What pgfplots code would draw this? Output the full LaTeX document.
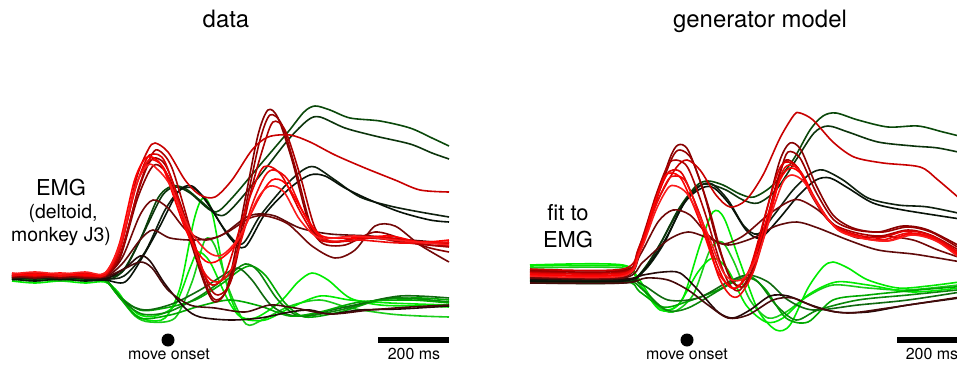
\documentclass[border=0pt]{standalone}
\usepackage{pgfplots}
\pgfplotsset{compat=1.18}
\usepackage{fontspec}
\setmainfont{TeX Gyre Heros}
\definecolor{gA}{RGB}{0,235,0}
\definecolor{gB}{RGB}{25,205,25}
\definecolor{gC}{RGB}{0,170,0}
\definecolor{gD}{RGB}{10,135,10}
\definecolor{gE}{RGB}{15,105,15}
\definecolor{gF}{RGB}{10,72,10}
\definecolor{gG}{RGB}{12,52,12}
\definecolor{kA}{RGB}{15,32,15}
\definecolor{kA2}{RGB}{8,18,8}
\definecolor{kB}{RGB}{35,8,8}
\definecolor{dA}{RGB}{70,10,10}
\definecolor{dB}{RGB}{95,10,10}
\definecolor{dB2}{RGB}{115,8,8}
\definecolor{dC}{RGB}{135,0,0}
\definecolor{dD}{RGB}{152,0,0}
\definecolor{dE}{RGB}{172,0,0}
\definecolor{mA}{RGB}{200,0,0}
\definecolor{rA}{RGB}{222,0,0}
\definecolor{rB}{RGB}{238,10,10}
\definecolor{rC}{RGB}{255,0,0}
\definecolor{rD}{RGB}{250,28,28}
\pgfplotsset{tr/.style={no markers, smooth, line width=1.6bp, line join=round},
  panel/.style={scale only axis, anchor=south west, height=369bp, ymin=0, ymax=369,
  y dir=reverse, hide axis, clip=false}}
\begin{document}
\begin{tikzpicture}
\useasboundingbox (0,0) rectangle (957bp,369bp);
% ---------------- data ----------------
\begin{axis}[panel, at={(0,0)}, width=478bp, xmin=0, xmax=478]
\addplot[tr,gA] coordinates {(12,281)(35,283)(60,281)(85,283)(105,282)(118,292)(132,312)(147,320)(165,318)(180,288)(194,220)(203,198)(212,212)(225,278)(238,314)(255,318)(280,302)(298,282)(312,273)(328,280)(350,298)(380,305)(420,306)(449,307)};
\addplot[tr,gB] coordinates {(12,280)(35,278)(60,281)(85,279)(105,281)(118,295)(135,316)(150,322)(175,318)(192,282)(205,240)(215,246)(230,292)(246,324)(262,320)(290,306)(320,300)(350,308)(390,314)(420,316)(449,317)};
\addplot[tr,gA] coordinates {(12,279)(35,281)(60,279)(85,281)(105,280)(120,296)(138,314)(155,316)(175,305)(190,268)(198,252)(210,262)(228,300)(242,318)(265,320)(290,308)(320,296)(350,300)(390,303)(449,305)};
\addplot[tr,gC] coordinates {(12,278)(35,280)(60,278)(85,280)(105,280)(118,295)(140,310)(165,308)(195,300)(220,285)(240,270)(252,266)(266,276)(285,303)(305,317)(340,312)(380,300)(420,298)(449,300)};
\addplot[tr,gD] coordinates {(12,277)(35,279)(60,277)(85,279)(105,279)(122,300)(142,314)(168,312)(200,296)(228,276)(245,264)(258,271)(278,300)(300,316)(340,310)(390,298)(449,302)};
\addplot[tr,gE] coordinates {(12,280)(35,278)(60,280)(85,278)(105,280)(125,302)(145,310)(172,304)(200,290)(222,276)(238,268)(252,280)(272,306)(298,316)(350,306)(400,296)(449,298)};
\addplot[tr,gC] coordinates {(12,279)(35,277)(60,279)(85,277)(105,280)(120,298)(140,318)(170,315)(200,306)(230,300)(260,306)(290,316)(320,312)(360,302)(410,300)(449,303)};
\addplot[tr,gF] coordinates {(12,279)(35,277)(60,279)(85,277)(105,280)(122,272)(140,240)(158,198)(172,186)(186,189)(202,202)(216,212)(232,198)(260,165)(288,132)(304,112)(315,106)(330,110)(350,118)(380,121)(410,128)(432,138)(449,146)};
\addplot[tr,gG] coordinates {(12,276)(35,278)(60,276)(85,278)(105,278)(124,270)(144,232)(162,196)(175,187)(190,193)(210,210)(226,214)(258,178)(288,140)(308,120)(320,117)(345,128)(375,136)(410,144)(432,153)(449,159)};
\addplot[tr,kA] coordinates {(12,277)(35,279)(60,277)(85,279)(105,279)(124,276)(145,252)(165,210)(180,190)(193,188)(206,200)(225,230)(242,244)(260,216)(285,186)(303,170)(315,167)(335,180)(360,197)(390,206)(420,212)(449,217)};
\addplot[tr,kA2] coordinates {(12,279)(35,281)(60,279)(85,281)(105,280)(125,282)(142,258)(160,226)(178,192)(192,186)(208,204)(230,238)(245,247)(265,214)(290,188)(310,175)(325,176)(345,188)(370,200)(400,212)(430,220)(449,222)};
\addplot[tr,kB] coordinates {(12,278)(35,276)(60,278)(85,276)(105,279)(125,268)(140,256)(150,261)(165,284)(185,308)(200,317)(230,320)(260,318)(290,312)(310,310)(330,314)(360,310)(400,309)(449,306)};
\addplot[tr,dA] coordinates {(12,275)(35,277)(60,275)(85,277)(105,277)(122,270)(140,262)(152,268)(168,290)(190,305)(215,308)(245,312)(270,305)(295,308)(330,314)(370,310)(410,307)(449,305)};
\addplot[tr,dB] coordinates {(12,278)(35,276)(60,278)(85,276)(105,277)(122,264)(140,240)(153,230)(170,238)(195,240)(220,236)(245,218)(258,214)(275,216)(300,228)(330,234)(370,236)(410,240)(449,243)};
\addplot[tr,dB2] coordinates {(12,276)(35,278)(60,276)(85,278)(105,276)(122,258)(140,215)(153,200)(168,208)(186,230)(205,240)(226,233)(250,218)(266,216)(288,224)(312,246)(335,258)(355,250)(375,226)(395,226)(420,245)(449,262)};
\addplot[tr,dC] coordinates {(12,277)(35,275)(60,277)(85,275)(105,276)(120,258)(137,200)(150,170)(158,165)(170,180)(190,240)(205,285)(215,302)(228,285)(245,200)(258,135)(268,110)(278,118)(292,160)(308,220)(322,243)(345,245)(375,232)(405,240)(430,248)(449,252)};
\addplot[tr,dD] coordinates {(12,275)(35,277)(60,275)(85,277)(105,275)(120,255)(137,195)(148,165)(156,158)(168,170)(190,232)(205,282)(216,300)(230,282)(248,195)(260,140)(270,115)(282,125)(296,170)(312,228)(330,242)(360,238)(395,240)(430,245)(449,246)};
\addplot[tr,dE] coordinates {(12,276)(35,274)(60,276)(85,274)(105,276)(122,250)(138,190)(150,158)(158,150)(172,168)(192,235)(207,282)(218,295)(232,278)(250,195)(263,148)(273,122)(285,130)(300,175)(316,230)(335,242)(365,236)(400,242)(449,247)};
\addplot[tr,mA] coordinates {(12,275)(35,273)(60,275)(85,273)(105,274)(120,250)(136,180)(148,150)(155,143)(168,152)(185,180)(200,195)(215,197)(232,180)(252,150)(268,137)(290,135)(310,142)(335,155)(365,168)(395,180)(420,190)(449,192)};
\addplot[tr,rA] coordinates {(12,274)(35,276)(60,274)(85,276)(105,274)(120,248)(135,190)(146,160)(153,154)(165,162)(185,220)(200,265)(212,285)(226,272)(246,208)(260,172)(268,166)(282,176)(302,215)(320,240)(350,241)(380,237)(410,241)(449,244)};
\addplot[tr,rB] coordinates {(12,276)(35,274)(60,276)(85,274)(105,275)(121,245)(136,186)(147,162)(154,160)(166,172)(188,232)(204,272)(217,282)(232,268)(252,205)(265,176)(274,170)(288,180)(306,218)(325,240)(360,240)(400,243)(449,242)};
\addplot[tr,rC] coordinates {(12,273)(35,275)(60,273)(85,275)(105,273)(119,245)(134,182)(144,160)(152,157)(164,170)(185,228)(202,258)(215,262)(235,245)(258,200)(272,180)(286,184)(305,215)(322,236)(355,238)(390,236)(420,242)(449,240)};
\addplot[tr,rD] coordinates {(12,274)(35,272)(60,274)(85,272)(105,273)(120,244)(136,185)(148,165)(156,168)(170,185)(190,230)(208,252)(222,255)(240,236)(258,198)(270,186)(284,192)(300,220)(320,238)(355,236)(395,240)(449,245)};
\node[font=\fontsize{24}{28}\selectfont, anchor=base] at (axis cs:226,28) {data};
\node[font=\fontsize{22}{26}\selectfont, anchor=base] at (axis cs:61,195) {EMG};
\node[font=\fontsize{19.5}{24}\selectfont, anchor=base] at (axis cs:63,218) {(deltoid,};
\node[font=\fontsize{19.5}{24}\selectfont, anchor=base] at (axis cs:61,241) {monkey J3)};
\node[circle, fill=black, inner sep=0pt, minimum size=13bp] at (axis cs:168,340) {};
\node[font=\fontsize{16}{19}\selectfont, anchor=base] at (axis cs:169,359) {move onset};
\draw[line width=6.5bp] (axis cs:378,340) -- (axis cs:449,340);
\node[font=\fontsize{16}{19}\selectfont, anchor=base] at (axis cs:414,359) {200 ms};
\end{axis}
% ---------------- generator model ----------------
\begin{axis}[panel, at={(478bp,0)}, width=479bp, xmin=-40, xmax=439]
\addplot[tr,gA] coordinates {(12,266)(105,266)(118,275)(135,300)(150,310)(165,298)(182,245)(195,212)(206,218)(222,262)(240,310)(258,330)(272,325)(290,288)(305,267)(315,262)(330,268)(350,280)(380,288)(410,286)(449,281)};
\addplot[tr,gB] coordinates {(12,268)(105,268)(120,282)(138,305)(155,312)(175,295)(192,250)(204,242)(216,262)(232,300)(250,318)(268,312)(290,296)(315,285)(350,288)(390,290)(449,284)};
\addplot[tr,gA] coordinates {(12,265)(105,265)(122,285)(142,310)(160,305)(180,272)(195,258)(210,270)(228,305)(248,322)(265,318)(290,295)(318,282)(350,285)(395,292)(449,287)};
\addplot[tr,gC] coordinates {(12,281)(105,281)(122,292)(145,307)(168,302)(200,290)(220,278)(232,276)(248,290)(268,318)(290,322)(315,300)(350,295)(400,290)(449,286)};
\addplot[tr,gD] coordinates {(12,280)(105,280)(125,290)(148,310)(170,308)(205,288)(225,278)(240,282)(258,305)(278,320)(300,310)(340,300)(390,295)(449,289)};
\addplot[tr,gE] coordinates {(12,279)(105,279)(125,285)(150,300)(180,298)(210,282)(230,275)(250,282)(270,300)(295,310)(340,305)(390,300)(449,291)};
\addplot[tr,gF] coordinates {(12,282)(105,282)(120,276)(140,248)(160,210)(178,186)(190,181)(205,185)(222,194)(236,197)(255,185)(275,160)(292,130)(305,116)(318,113)(340,120)(370,127)(400,126)(425,132)(449,138)};
\addplot[tr,gG] coordinates {(12,283)(105,283)(122,275)(142,244)(162,208)(178,188)(190,184)(208,190)(225,200)(240,203)(258,190)(278,160)(296,133)(310,126)(330,132)(360,142)(395,146)(420,148)(449,154)};
\addplot[tr,kA] coordinates {(12,280)(105,280)(125,272)(145,245)(165,205)(182,186)(194,184)(210,200)(226,226)(240,234)(256,215)(275,190)(292,174)(305,170)(325,180)(350,198)(380,205)(410,207)(449,215)};
\addplot[tr,kA2] coordinates {(12,281)(105,281)(126,270)(147,240)(167,202)(184,188)(196,188)(212,205)(228,230)(242,238)(260,220)(280,196)(298,180)(312,178)(330,188)(355,203)(385,210)(449,220)};
\addplot[tr,kB] coordinates {(12,279)(105,279)(125,275)(145,272)(162,273)(180,290)(200,312)(215,318)(232,310)(252,296)(270,296)(290,304)(318,312)(350,312)(390,305)(449,297)};
\addplot[tr,dA] coordinates {(12,283)(105,283)(128,278)(150,280)(170,290)(190,305)(210,318)(230,315)(255,300)(275,298)(300,308)(330,313)(370,308)(410,302)(449,296)};
\addplot[tr,dB] coordinates {(12,278)(105,278)(125,262)(150,240)(170,232)(190,238)(210,245)(235,238)(258,226)(279,222)(300,228)(330,240)(360,250)(395,254)(420,258)(449,263)};
\addplot[tr,dB2] coordinates {(12,277)(105,277)(122,255)(140,222)(155,210)(172,215)(190,235)(205,244)(225,236)(250,215)(270,202)(282,200)(300,210)(320,228)(340,238)(365,236)(395,240)(420,250)(449,260)};
\addplot[tr,dC] coordinates {(12,270)(105,270)(120,255)(138,200)(152,158)(160,145)(170,150)(185,190)(200,245)(212,278)(222,285)(235,262)(250,205)(262,160)(272,143)(283,150)(298,185)(315,215)(335,228)(360,232)(385,226)(410,230)(449,250)};
\addplot[tr,dD] coordinates {(12,271)(105,271)(121,252)(140,195)(154,158)(162,150)(174,160)(190,205)(204,256)(215,282)(226,286)(238,262)(252,212)(263,170)(270,152)(282,158)(298,192)(316,220)(338,230)(365,232)(390,227)(415,233)(449,253)};
\addplot[tr,dE] coordinates {(12,272)(105,272)(120,250)(138,195)(150,165)(158,160)(170,168)(186,210)(202,262)(212,285)(222,290)(236,265)(250,215)(260,178)(268,160)(280,168)(295,198)(312,222)(335,232)(362,236)(390,230)(415,236)(449,255)};
\addplot[tr,mA] coordinates {(12,269)(105,269)(122,245)(140,200)(158,168)(169,160)(182,170)(198,195)(212,207)(228,200)(245,175)(262,138)(276,115)(282,113)(295,120)(315,142)(336,157)(365,163)(402,167)(420,180)(449,205)};
\addplot[tr,rA] coordinates {(12,273)(105,273)(120,255)(136,205)(148,176)(155,170)(165,175)(182,215)(198,262)(208,283)(218,288)(232,268)(248,212)(260,172)(268,162)(280,168)(296,198)(314,224)(336,234)(362,238)(388,231)(414,236)(449,258)};
\addplot[tr,rB] coordinates {(12,274)(105,274)(121,252)(138,205)(150,180)(157,176)(168,182)(185,225)(200,275)(212,295)(222,295)(236,270)(252,215)(263,175)(271,165)(283,172)(298,200)(316,226)(338,236)(364,240)(390,233)(416,238)(449,260)};
\addplot[tr,rC] coordinates {(12,275)(105,275)(120,255)(135,208)(146,178)(153,173)(164,180)(182,222)(198,268)(210,285)(220,287)(234,265)(250,215)(262,180)(272,168)(284,175)(300,205)(318,228)(340,237)(368,241)(392,234)(418,240)(449,262)};
\addplot[tr,rD] coordinates {(12,276)(105,276)(122,252)(138,210)(150,188)(158,186)(170,195)(188,230)(204,270)(214,280)(226,278)(240,255)(254,212)(265,182)(274,175)(286,182)(302,208)(320,230)(342,238)(370,241)(395,235)(420,242)(449,264)};
\node[font=\fontsize{24}{28}\selectfont, anchor=base] at (axis cs:242,28) {generator model};
\node[font=\fontsize{22}{26}\selectfont, anchor=base] at (axis cs:50,220) {fit to};
\node[font=\fontsize{22}{26}\selectfont, anchor=base] at (axis cs:50,247) {EMG};
\node[circle, fill=black, inner sep=0pt, minimum size=13bp] at (axis cs:169,340) {};
\node[font=\fontsize{16}{19}\selectfont, anchor=base] at (axis cs:169,359) {move onset};
\draw[line width=6.5bp] (axis cs:379,340) -- (axis cs:460,340);
\node[font=\fontsize{16}{19}\selectfont, anchor=base] at (axis cs:414,359) {200 ms};
\end{axis}
\end{tikzpicture}
\end{document}
